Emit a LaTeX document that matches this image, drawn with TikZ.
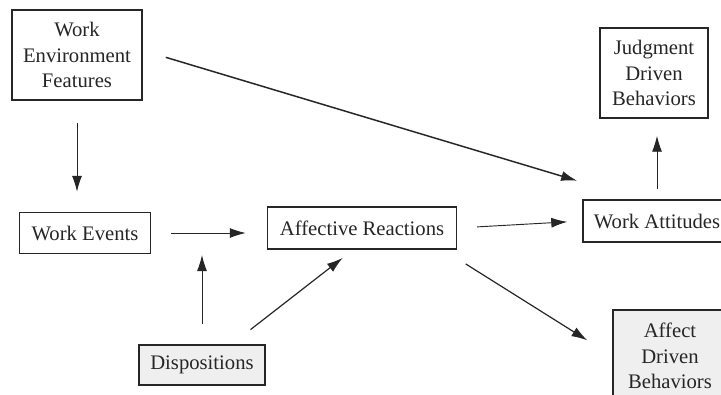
\documentclass[tikz,border=0pt]{standalone}
\usepackage{fontspec}
\setmainfont{Liberation Serif}
\usepackage{xcolor}
\usetikzlibrary{arrows.meta}
\definecolor{inkdark}{HTML}{262626}
\definecolor{scangray}{HTML}{EFEFEF}

\begin{document}
\begin{tikzpicture}[
  x=0.75pt, y=-0.75pt,
  box/.style={rectangle, draw=inkdark, line width=1.1pt, fill=white, text=inkdark,
              align=center, inner sep=2pt, font=\fontsize{15.5}{19}\selectfont},
  shaded/.style={box, fill=scangray},
  arr/.style={-{Latex[length=12pt,width=7.5pt]}, draw=inkdark, line width=0.7pt}
]
\useasboundingbox (0,0) rectangle (721,394);

\node[box, minimum width=97.5pt, minimum height=67.5pt] (wef) at (77,55) {Work\\Environment\\Features};
\node[box, minimum width=81pt, minimum height=67.5pt] (jdb) at (654,73) {Judgment\\Driven\\Behaviors};
\node[box, minimum width=98.25pt, minimum height=30.75pt] (we) at (85,233) {Work Events};
\node[box, minimum width=141.75pt, minimum height=31.5pt] (ar) at (362,228) {Affective Reactions};
\node[box, minimum width=111pt, minimum height=31.5pt] (wa) at (657,221) {Work Attitudes};
\node[shaded, minimum width=94.5pt, minimum height=30pt] (disp) at (202,365) {Dispositions};
\node[shaded, minimum width=85.5pt, minimum height=69pt] (adb) at (670,356) {Affect\\Driven\\Behaviors};
\coordinate (mod) at (204,255);

% main paths
\draw[arr, line width=1.1pt, shorten <=18pt, shorten >=4pt] (wef.4) -- ([yshift=12.75pt]wa.north west);
\draw[arr, shorten <=16.5pt, shorten >=15pt] (wef.south) -- (wef.south |- we.north);
\draw[arr, shorten <=15pt, shorten >=15.75pt] (we.east) -- (we.east -| ar.west);
\draw[arr, shorten <=15pt, shorten >=11.25pt] (ar.east) -- (wa.west);
\draw[arr, line width=0.9pt, shorten <=20pt, shorten >=22pt] (ar.-15) -- (adb.west);
\draw[arr, shorten <=7.5pt, shorten >=12.75pt] (wa.north) -- (wa.north |- jdb.south);

% dispositions
\draw[arr, shorten <=15pt] (disp.north) -- (disp.north |- mod);
\draw[arr, line width=0.9pt, shorten <=18pt, shorten >=10pt] (disp.35) -- (ar.248);
\end{tikzpicture}
\end{document}
